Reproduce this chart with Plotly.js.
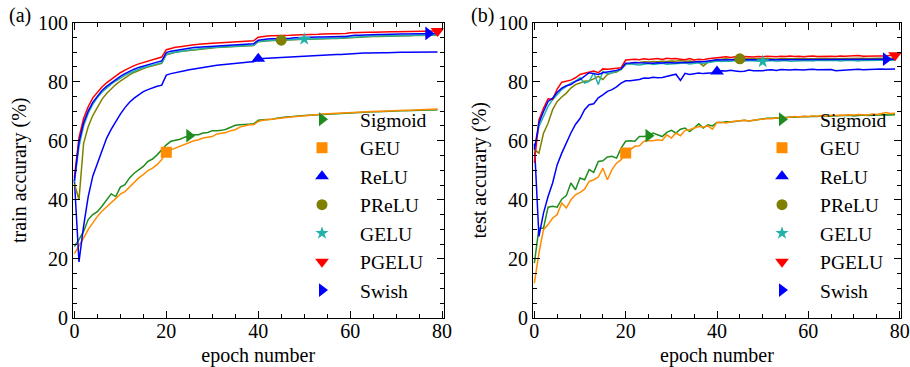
<!DOCTYPE html>
<html><head><meta charset="utf-8">
<script src="https://cdn.plot.ly/plotly-3.0.1.min.js"></script>
<style>html,body{margin:0;padding:0;background:#fff}</style>
</head><body><div id="chart" style="width:910px;height:367px"></div>
<script>
const epochs = [0,1,2,3,4,5,6,7,8,9,10,11,12,13,14,15,16,17,18,19,20,21,22,23,24,25,26,27,28,29,30,31,32,33,34,35,36,37,38,39,40,41,42,43,44,45,46,47,48,49,50,51,52,53,54,55,56,57,58,59,60,61,62,63,64,65,66,67,68,69,70,71,72,73,74,75,76,77,78,79];
const seriesNames = ["Sigmoid","GEU","ReLU","PReLU","GELU","PGELU","Swish"];

// ---- train accuracy (panel a) ----
const trainSigmoid = [24.2,26.5,29.3,33.3,35.0,36.0,37.8,40.0,42.0,41.1,
 44.3,45.1,47.4,49.0,50.2,51.3,53.0,53.8,55.2,56.9,
 58.6,59.8,60.1,60.5,61.2,61.7,62.0,62.0,62.6,62.8,
 63.4,63.4,63.5,63.9,64.6,65.2,65.4,65.4,65.6,65.7,
 66.9,67.1,67.1,67.3,67.6,67.9,68.0,68.1,68.3,68.4,
 68.5,68.6,68.7,68.8,68.9,69.0,69.0,69.1,69.2,69.3,
 69.5,69.6,69.6,69.7,69.7,69.8,69.8,69.9,69.9,70.0,
 70.0,70.1,70.1,70.2,70.2,70.3,70.3,70.4,70.4,70.5];
const trainGEU = [21.8,24.2,27.0,29.9,32.1,34.4,36.1,37.5,39.1,40.6,
 41.9,42.8,44.3,45.9,47.4,48.5,49.9,50.7,51.9,53.6,
 56.1,56.9,57.5,58.1,58.6,59.2,60.0,60.3,60.9,61.2,
 61.4,62.3,62.6,62.8,63.4,63.7,64.6,65.0,65.4,65.4,
 66.5,66.9,67.1,67.3,67.6,67.8,67.9,68.1,68.2,68.3,
 68.5,68.6,68.8,68.9,69.0,69.1,69.1,69.2,69.3,69.4,
 69.6,69.7,69.7,69.8,69.9,69.9,70.0,70.0,70.1,70.1,
 70.2,70.2,70.3,70.3,70.4,70.4,70.5,70.5,70.6,70.7];
const trainReLU = [46.8,19.0,31.0,41.0,48.0,52.5,57.0,60.8,63.8,66.5,
 69.0,71.2,73.0,74.4,75.6,76.6,77.3,77.9,78.4,78.8,
 82.2,82.7,83.1,83.4,83.7,84.0,84.3,84.6,84.9,85.1,
 85.3,85.5,85.7,85.9,86.0,86.2,86.3,86.5,86.6,86.7,
 87.7,87.8,87.9,88.0,88.1,88.2,88.3,88.4,88.5,88.6,
 88.7,88.8,88.9,88.9,89.0,89.1,89.1,89.2,89.2,89.3,
 89.6,89.6,89.7,89.7,89.7,89.8,89.8,89.8,89.8,89.9,
 89.9,89.9,89.9,89.9,90.0,90.0,90.0,90.0,90.0,90.0];
const trainPReLU = [45.5,40.0,59.0,64.7,68.5,71.5,74.0,76.0,77.6,79.0,
 80.2,81.3,82.3,83.1,83.8,84.4,84.9,85.4,85.8,86.2,
 89.1,89.6,89.9,90.2,90.4,90.6,90.8,91.0,91.1,91.3,
 91.4,91.5,91.6,91.7,91.8,91.9,92.0,92.1,92.1,92.2,
 93.5,93.7,93.8,93.9,93.9,94.0,94.1,94.1,94.2,94.2,
 94.3,94.3,94.4,94.4,94.5,94.5,94.6,94.6,94.7,94.7,
 95.0,95.1,95.1,95.2,95.2,95.3,95.3,95.3,95.4,95.4,
 95.4,95.5,95.5,95.5,95.6,95.6,95.6,95.7,95.7,95.7];
const trainGELU = [46.0,58.0,65.0,69.2,72.3,74.6,76.4,77.9,79.1,80.2,
 81.2,82.1,82.9,83.6,84.2,84.7,85.2,85.6,86.0,86.4,
 89.2,89.7,90.0,90.3,90.5,90.7,90.9,91.1,91.2,91.4,
 91.5,91.6,91.7,91.8,91.9,92.0,92.1,92.2,92.2,92.3,
 93.6,93.8,93.9,94.0,94.0,94.1,94.2,94.2,94.3,94.3,
 94.4,94.4,94.5,94.5,94.6,94.6,94.7,94.7,94.8,94.8,
 95.1,95.2,95.2,95.3,95.3,95.4,95.4,95.4,95.5,95.5,
 95.5,95.6,95.6,95.6,95.7,95.7,95.7,95.8,95.8,95.8];
const trainPGELU = [47.5,61.0,67.5,71.5,74.5,76.5,78.2,79.6,80.8,82.0,
 83.0,83.9,84.7,85.4,86.0,86.5,87.0,87.4,87.8,88.3,
 90.8,91.3,91.6,91.8,92.1,92.3,92.5,92.6,92.8,92.9,
 93.0,93.1,93.2,93.3,93.4,93.5,93.6,93.7,93.7,93.8,
 95.0,95.3,95.4,95.5,95.5,95.6,95.7,95.7,95.8,95.8,
 95.9,95.9,96.0,96.0,96.1,96.1,96.2,96.2,96.3,96.3,
 96.5,96.6,96.6,96.7,96.7,96.7,96.8,96.8,96.8,96.9,
 96.9,96.9,96.9,97.0,97.0,97.0,97.0,97.1,97.1,97.1];
const trainSwish = [46.5,59.5,66.0,70.0,73.0,75.2,77.0,78.4,79.6,80.8,
 81.8,82.7,83.5,84.2,84.8,85.3,85.8,86.2,86.6,87.0,
 89.8,90.3,90.6,90.9,91.1,91.3,91.5,91.6,91.8,91.9,
 92.0,92.1,92.2,92.3,92.4,92.5,92.6,92.7,92.7,92.8,
 94.0,94.3,94.4,94.5,94.5,94.6,94.7,94.7,94.8,94.9,
 94.9,95.0,95.0,95.1,95.1,95.2,95.2,95.2,95.3,95.3,
 95.6,95.7,95.7,95.8,95.8,95.9,95.9,95.9,96.0,96.0,
 96.0,96.1,96.1,96.1,96.2,96.2,96.2,96.3,96.3,96.3];

// ---- test accuracy (panel b) ----
const testSigmoid = [18.6,30.4,30.4,37.5,37.8,37.5,40.2,41.4,45.7,43.4,
 47.4,46.8,50.2,49.3,53.0,53.2,54.5,54.7,54.1,57.5,
 59.8,60.0,59.8,61.4,61.4,61.7,62.6,62.0,61.4,62.8,
 63.5,62.6,63.9,64.3,63.1,64.3,65.7,64.3,65.4,65.0,
 66.2,66.2,66.4,66.3,66.5,66.7,66.9,66.7,66.9,67.3,
 67.5,67.6,67.6,67.8,67.7,67.9,68.0,67.9,68.1,68.2,
 68.1,68.3,68.2,68.4,68.3,68.4,68.5,68.4,68.5,68.6,
 68.4,68.6,68.7,68.5,68.6,68.7,68.6,68.8,68.7,68.8];
const testGEU = [11.8,22.0,29.9,31.6,33.8,35.0,38.9,37.2,40.0,41.7,
 42.5,43.6,46.2,46.8,47.7,50.7,46.8,50.2,52.4,53.6,
 55.8,56.9,58.1,58.3,59.8,60.0,60.0,60.3,60.1,62.0,
 60.9,62.6,61.7,63.5,63.7,64.3,64.8,64.6,65.0,63.9,
 66.2,66.2,66.0,66.4,66.5,66.7,66.9,66.7,67.0,67.2,
 67.3,67.5,67.4,67.7,67.9,67.8,68.0,68.2,68.0,68.3,
 68.2,68.4,68.3,68.5,68.4,68.6,68.5,68.7,68.6,68.8,
 68.7,68.9,68.8,68.7,69.0,68.9,69.2,69.5,69.2,69.3];
const testReLU = [59.0,27.6,35.5,41.1,45.7,51.9,55.8,59.4,62.6,65.5,
 67.5,70.5,72.2,72.5,74.5,75.5,76.7,77.3,78.2,79.5,
 80.3,80.3,80.5,80.7,81.2,81.1,81.5,81.3,81.4,81.8,
 82.0,82.5,80.4,82.8,82.4,82.6,82.9,82.7,82.8,83.0,
 83.4,83.7,83.6,83.8,83.6,83.4,83.5,83.9,83.7,83.6,
 83.7,83.9,84.0,83.8,84.1,84.0,83.9,84.1,84.0,83.9,
 84.1,84.2,84.0,84.1,84.2,84.1,83.7,83.8,84.0,84.2,
 84.1,84.2,84.0,84.1,84.2,84.1,84.3,84.2,84.3,84.3];
const testPReLU = [57.0,55.8,62.5,65.9,70.5,73.3,74.8,76.1,77.8,79.0,
 79.5,80.1,80.3,80.9,81.8,80.7,82.4,83.0,83.2,84.1,
 85.8,86.2,86.4,86.5,86.7,86.6,86.8,86.7,86.9,86.8,
 87.0,86.9,87.1,86.9,87.0,86.8,86.5,85.3,86.5,87.0,
 87.5,87.6,87.7,87.5,87.6,87.7,87.6,87.8,87.7,87.6,
 87.7,87.8,87.7,87.6,87.8,87.7,87.8,87.7,87.8,87.7,
 87.8,87.7,87.8,87.9,87.8,87.7,87.8,87.9,87.8,87.8,
 87.9,87.8,87.9,87.8,87.9,87.8,87.9,87.9,87.8,87.9];
const testGELU = [56.0,64.8,68.2,71.6,73.9,75.6,77.3,78.4,79.5,80.1,
 81.3,79.5,80.1,83.0,79.0,83.5,82.7,83.0,83.5,84.1,
 85.8,86.0,85.8,85.6,85.9,86.1,85.8,86.0,86.2,85.9,
 86.0,86.2,86.1,86.3,86.0,86.2,86.4,86.1,86.5,86.6,
 87.0,86.8,87.0,86.9,87.1,87.0,86.9,87.1,87.0,86.9,
 86.8,87.0,87.1,86.9,87.0,87.1,86.9,87.0,87.1,87.0,
 87.1,87.0,87.2,87.1,87.0,87.1,87.2,87.0,87.1,87.2,
 87.1,87.0,87.2,87.1,87.2,87.1,87.2,87.2,87.1,87.2];
const testPGELU = [52.5,67.0,71.0,74.2,74.0,77.5,79.8,80.1,80.5,81.3,
 82.4,82.8,83.2,83.6,83.0,84.3,84.2,84.3,84.5,84.7,
 87.3,87.5,87.6,87.4,87.7,87.5,87.6,87.8,87.5,87.9,
 87.7,87.8,87.6,87.4,87.8,87.3,87.6,87.4,87.7,87.9,
 88.2,88.3,88.4,88.2,88.4,88.3,88.5,88.4,88.3,88.5,
 88.4,88.6,88.5,88.4,88.6,88.5,88.7,88.5,88.6,88.4,
 88.6,88.7,88.5,88.6,88.7,88.6,88.5,88.7,88.6,88.7,
 88.6,88.8,88.6,88.7,88.8,88.7,88.7,88.8,88.8,88.9];
const testSwish = [57.0,66.0,69.9,73.3,74.4,76.4,77.8,78.6,79.0,80.1,
 80.7,81.8,83.0,82.7,82.4,83.0,83.2,83.5,83.8,84.3,
 86.2,86.3,86.5,86.4,86.3,86.4,86.2,86.4,86.3,86.5,
 86.4,86.3,86.5,86.4,86.5,86.6,86.8,86.7,86.9,87.0,
 87.4,87.3,87.4,87.3,87.4,87.5,87.4,87.4,87.5,87.4,
 87.5,87.4,87.5,87.5,87.4,87.5,87.5,87.6,87.5,87.5,
 87.6,87.5,87.6,87.5,87.6,87.6,87.5,87.6,87.6,87.5,
 87.6,87.6,87.5,87.6,87.6,87.6,87.5,87.6,87.6,87.6];

// epoch at which each curve carries its single marker
const markerEpochs = [25, 20, 40, 45, 50, 79, 77];

// ---- styling ----
const colors = ["#1e8c1e", "#ff8c00", "#0000ff", "#808000", "#20b2aa", "#ff0000", "#0000ff"];
const symbols = ["triangle-right", "square", "triangle-up", "circle", "star", "triangle-down", "triangle-right"];
const msizes = [12, 11, 12, 11, 10, 12, 12];
const FONT = "Liberation Serif, Times New Roman, serif";

const trainData = [trainSigmoid, trainGEU, trainReLU, trainPReLU, trainGELU, trainPGELU, trainSwish];
const testData = [testSigmoid, testGEU, testReLU, testPReLU, testGELU, testPGELU, testSwish];

function panelTraces(data, xa, ya, legendId) {
  const tr = [];
  data.forEach((ys, i) => {
    tr.push({x: epochs, y: ys, xaxis: xa, yaxis: ya, mode: 'lines', type: 'scatter',
      line: {color: colors[i], width: 1.5}, showlegend: false, hoverinfo: 'skip'});
  });
  data.forEach((ys, i) => {
    const k = markerEpochs[i];
    tr.push({x: [epochs[k]], y: [ys[k]], xaxis: xa, yaxis: ya, mode: 'markers', type: 'scatter',
      name: seriesNames[i], legend: legendId, legendgroup: legendId + i,
      marker: {color: colors[i], symbol: symbols[i], size: msizes[i], line: {width: 0}},
      showlegend: true});
  });
  return tr;
}

const traces = panelTraces(trainData, 'x', 'y', 'legend').concat(panelTraces(testData, 'x2', 'y2', 'legend2'));

const W = 910, H = 367;
const yDom = [(H - 318) / H, (H - 22.5) / H];
function xAxis(dom) {
  return {domain: dom, range: [-0.3, 80.3], dtick: 20, tick0: 0, ticks: 'inside', ticklen: 7, tickwidth: 1,
    tickcolor: '#000', showline: true, linecolor: '#000', linewidth: 1, mirror: 'allticks',
    showgrid: false, zeroline: false, tickfont: {family: FONT, size: 20, color: '#000'},
    ticklabelstandoff: -5,
    minor: {dtick: 5, ticks: 'inside', ticklen: 4, tickcolor: '#000', tickwidth: 1, showgrid: false},
    title: {text: 'epoch number', font: {family: FONT, size: 20, color: '#000'}, standoff: 8},
    automargin: false};
}
function yAxis(dom, anchor, title) {
  return {domain: dom, anchor: anchor, range: [0, 100], dtick: 20, tick0: 0, ticks: 'inside', ticklen: 7, tickwidth: 1,
    tickcolor: '#000', showline: true, linecolor: '#000', linewidth: 1, mirror: 'allticks',
    showgrid: false, zeroline: false, tickfont: {family: FONT, size: 20, color: '#000'},
    minor: {dtick: 5, ticks: 'inside', ticklen: 4, tickcolor: '#000', tickwidth: 1, showgrid: false},
    title: {text: title, font: {family: FONT, size: 20, color: '#000'}, standoff: 6},
    automargin: false};
}

const legendBase = {font: {family: FONT, size: 19.6, color: '#000'}, bgcolor: 'rgba(0,0,0,0)',
  borderwidth: 0, itemwidth: 66, tracegroupgap: 0, xanchor: 'left', yanchor: 'top', itemclick: false};

const layout = {
  width: W, height: H, margin: {l: 0, r: 0, t: 0, b: 0},
  paper_bgcolor: '#fff', plot_bgcolor: '#fff',
  font: {family: FONT, size: 20, color: '#000'},
  xaxis: Object.assign(xAxis([73 / W, 443.5 / W]), {anchor: 'y'}),
  yaxis: yAxis(yDom, 'x', 'train accurary (%)'),
  xaxis2: Object.assign(xAxis([533 / W, 901 / W]), {anchor: 'y2'}),
  yaxis2: yAxis(yDom, 'x2', 'test accurary (%)'),
  legend: Object.assign({}, legendBase, {x: 284 / W, y: (H - 100) / H}),
  legend2: Object.assign({}, legendBase, {x: 744 / W, y: (H - 100) / H}),
  annotations: [
    {text: '(a)', x: 20 / W, y: (H - 16) / H, xref: 'paper', yref: 'paper', showarrow: false,
     font: {family: FONT, size: 20, color: '#000'}, xanchor: 'center', yanchor: 'middle'},
    {text: '(b)', x: 482 / W, y: (H - 16) / H, xref: 'paper', yref: 'paper', showarrow: false,
     font: {family: FONT, size: 20, color: '#000'}, xanchor: 'center', yanchor: 'middle'}
  ]
};

Plotly.newPlot('chart', traces, layout, {displayModeBar: false, staticPlot: true});
</script>
</body></html>
